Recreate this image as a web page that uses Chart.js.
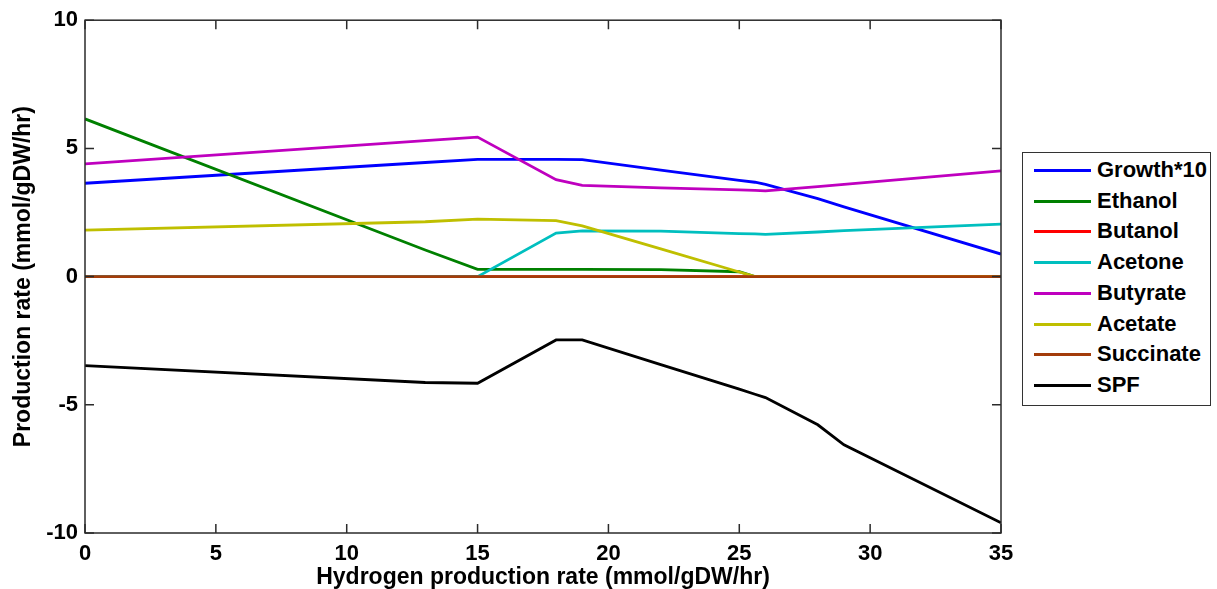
<!DOCTYPE html>
<html>
<head>
<meta charset="utf-8">
<script src="https://cdn.jsdelivr.net/npm/chart.js@4/dist/chart.umd.min.js"></script>
<style>
  html, body { margin: 0; padding: 0; background: #fff; }
  #wrap { position: relative; width: 1217px; height: 589px; overflow: hidden; }
  #legend {
    position: absolute; left: 1022px; top: 152px; width: 189px; height: 254px;
    border: 1px solid #333; background: #fff; box-sizing: border-box;
    font: bold 22px "Liberation Sans", Arial, sans-serif; color: #000;
  }
  #legend .row { position: absolute; left: 0; height: 30px; width: 100%; }
  #legend .sw { position: absolute; left: 11px; width: 57px; height: 3px; top: 13px; }
  #legend .tx { position: absolute; left: 74px; top: 1px; line-height: 26px; white-space: nowrap; }
</style>
</head>
<body>
<div id="wrap">
  <canvas id="c" width="1217" height="589"></canvas>
  <div id="legend"></div>
</div>
<script>
// hydrogen production rate breakpoints (x axis)
const hydrogen = [0, 13, 15, 18, 19, 22, 25, 25.6, 26, 28, 29, 35];

// production rates
const growth10  = [3.64, 4.45, 4.57, 4.57, 4.56, 4.15, 3.75, 3.68, 3.60, 3.04, 2.72, 0.88];
const ethanol   = [6.15, 1.04, 0.28, 0.28, 0.28, 0.27, 0.19, 0.00, 0.00, 0.00, 0.00, 0.00];
const butanol   = [0, 0, 0, 0, 0, 0, 0, 0, 0, 0, 0, 0];
const acetone   = [0.00, 0.00, 0.00, 1.70, 1.78, 1.77, 1.68, 1.67, 1.65, 1.74, 1.79, 2.05];
const butyrate  = [4.40, 5.30, 5.44, 3.78, 3.56, 3.46, 3.38, 3.36, 3.34, 3.51, 3.60, 4.12];
const acetate   = [1.81, 2.14, 2.24, 2.18, 1.98, 1.08, 0.18, 0.00, 0.00, 0.00, 0.00, 0.00];
const succinate = [0, 0, 0, 0, 0, 0, 0, 0, 0, 0, 0, 0];
const spf       = [-3.47, -4.13, -4.16, -2.47, -2.47, -3.43, -4.39, -4.59, -4.72, -5.78, -6.56, -9.60];

const seriesNames  = ['Growth*10', 'Ethanol', 'Butanol', 'Acetone', 'Butyrate', 'Acetate', 'Succinate', 'SPF'];
const seriesValues = [growth10, ethanol, butanol, acetone, butyrate, acetate, succinate, spf];
const seriesColors = ['#0000ff', '#008000', '#ff0000', '#00bfbf', '#bf00bf', '#bfbf00', '#a33c0a', '#000000'];

const xTicks = [0, 5, 10, 15, 20, 25, 30, 35];
const yTicks = [-10, -5, 0, 5, 10];

const FONT = '"Liberation Sans", Arial, sans-serif';

const datasets = seriesValues.map((vals, i) => ({
  label: seriesNames[i],
  data: vals.map((v, k) => ({ x: hydrogen[k], y: v })),
  borderColor: seriesColors[i],
  backgroundColor: seriesColors[i],
  borderWidth: 2.8,
  pointRadius: 0,
  tension: 0,
  fill: false,
  order: seriesValues.length - i, // later series on top, like matlab
}));

// matlab style box with inward ticks
const boxTicks = {
  id: 'boxTicks',
  afterDatasetsDraw(chart) {
    const { ctx, chartArea: a, scales } = chart;
    const len = 9;
    ctx.save();
    ctx.strokeStyle = '#2b2b2b';
    ctx.lineWidth = 1.5;
    ctx.strokeRect(a.left, a.top, a.right - a.left, a.bottom - a.top);
    ctx.beginPath();
    xTicks.forEach(t => {
      const px = scales.x.getPixelForValue(t);
      ctx.moveTo(px, a.bottom); ctx.lineTo(px, a.bottom - len);
      ctx.moveTo(px, a.top); ctx.lineTo(px, a.top + len);
    });
    yTicks.forEach(t => {
      const py = scales.y.getPixelForValue(t);
      ctx.moveTo(a.left, py); ctx.lineTo(a.left + len, py);
      ctx.moveTo(a.right, py); ctx.lineTo(a.right - len, py);
    });
    ctx.stroke();
    ctx.restore();
  },
};

new Chart(document.getElementById('c'), {
  type: 'line',
  data: { datasets },
  options: {
    responsive: false,
    animation: false,
    events: [],
    layout: { padding: { top: 20, right: 216, bottom: 0, left: 0 } },
    plugins: { legend: { display: false }, tooltip: { enabled: false } },
    scales: {
      x: {
        type: 'linear', min: 0, max: 35,
        grid: { display: false, drawTicks: false },
        border: { display: false },
        afterFit: s => { s.height = 56; },
        afterBuildTicks: s => { s.ticks = xTicks.map(v => ({ value: v })); },
        ticks: { color: '#000', padding: 8, font: { family: FONT, size: 22, weight: 'bold' } },
        title: {
          display: true, text: 'Hydrogen production rate (mmol/gDW/hr)', color: '#000',
          padding: { top: 0, bottom: -2 },
          font: { family: FONT, size: 23, weight: 'bold' },
        },
      },
      y: {
        type: 'linear', min: -10, max: 10,
        grid: { display: false, drawTicks: false },
        border: { display: false },
        afterFit: s => { s.width = 85; },
        afterBuildTicks: s => { s.ticks = yTicks.map(v => ({ value: v })); },
        ticks: { color: '#000', padding: 7, font: { family: FONT, size: 22, weight: 'bold' } },
        title: {
          display: true, text: 'Production rate (mmol/gDW/hr)', color: '#000',
          padding: { top: 10, bottom: 0 },
          font: { family: FONT, size: 23, weight: 'bold' },
        },
      },
    },
  },
  plugins: [boxTicks],
});

// legend box on the right
const lg = document.getElementById('legend');
seriesNames.forEach((n, i) => {
  const row = document.createElement('div');
  row.className = 'row';
  row.style.top = (3 + i * 30.7) + 'px';
  row.innerHTML = `<div class="sw" style="background:${seriesColors[i]}"></div><div class="tx">${n}</div>`;
  lg.appendChild(row);
});
</script>
</body>
</html>
